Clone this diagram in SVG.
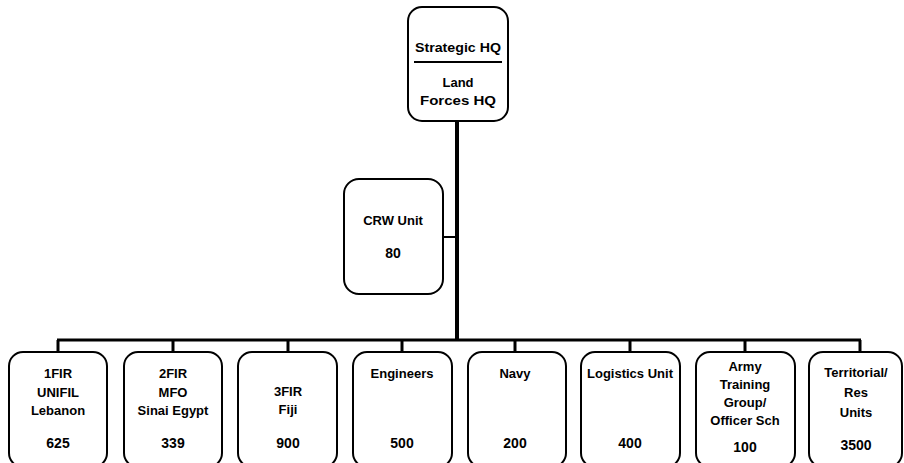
<svg xmlns="http://www.w3.org/2000/svg" width="904" height="463" viewBox="0 0 904 463">
<style>
.box{fill:#fff;stroke:#000;stroke-width:2}
.t{font-family:"Liberation Sans",Arial,sans-serif;font-size:13px;font-weight:bold;text-anchor:middle;fill:#000}
.num{font-size:14px}
.tn{font-family:"Liberation Sans",Arial,sans-serif;font-size:13px;font-weight:bold;text-anchor:middle;fill:#000}
.c{stroke:#000;fill:none}
</style>
<rect width="904" height="463" fill="#fff"/>
<g id="connectors">
<line class="c" x1="457" y1="121" x2="457" y2="341" stroke-width="4"/>
<line class="c" x1="443" y1="237" x2="457" y2="237" stroke-width="2"/>
<line class="c" x1="57" y1="340" x2="861" y2="340" stroke-width="3"/>
<line class="c" x1="58" y1="340" x2="58" y2="352" stroke-width="3"/>
<line class="c" x1="173" y1="340" x2="173" y2="352" stroke-width="3"/>
<line class="c" x1="288" y1="340" x2="288" y2="352" stroke-width="3"/>
<line class="c" x1="402" y1="340" x2="402" y2="352" stroke-width="3"/>
<line class="c" x1="515" y1="340" x2="515" y2="352" stroke-width="3"/>
<line class="c" x1="630" y1="340" x2="630" y2="352" stroke-width="3"/>
<line class="c" x1="745" y1="340" x2="745" y2="352" stroke-width="3"/>
<line class="c" x1="860" y1="340" x2="860" y2="352" stroke-width="3"/>
</g>
<g id="hq">
<rect class="box" x="408" y="7" width="100" height="114" rx="14"/>
<text class="tn" x="458" y="52" textLength="86" lengthAdjust="spacingAndGlyphs">Strategic HQ</text>
<line x1="414" y1="62" x2="502" y2="62" stroke="#000" stroke-width="2"/>
<text class="tn" x="458" y="87">Land</text>
<text class="tn" x="458" y="105" textLength="76" lengthAdjust="spacingAndGlyphs">Forces HQ</text>
</g>
<g id="crw">
<rect class="box" x="344" y="179" width="99" height="115" rx="15"/>
<text class="t" x="393" y="225">CRW Unit</text>
<text class="t num" x="393" y="258">80</text>
</g>
<g id="n1">
<rect class="box" x="9" y="352" width="98" height="115" rx="14"/>
<text class="t" x="58" y="378">1FIR</text>
<text class="t" x="58" y="397">UNIFIL</text>
<text class="t" x="58" y="415">Lebanon</text>
<text class="t num" x="58" y="448">625</text>
</g>
<g id="n2">
<rect class="box" x="124" y="352" width="98" height="115" rx="14"/>
<text class="t" x="173" y="378">2FIR</text>
<text class="t" x="173" y="397">MFO</text>
<text class="t" x="173" y="415">Sinai Egypt</text>
<text class="t num" x="173" y="448">339</text>
</g>
<g id="n3">
<rect class="box" x="238" y="352" width="99" height="115" rx="14"/>
<text class="t" x="288" y="396">3FIR</text>
<text class="t" x="288" y="414">Fiji</text>
<text class="t num" x="288" y="448">900</text>
</g>
<g id="n4">
<rect class="box" x="353" y="352" width="99" height="115" rx="14"/>
<text class="t" x="402" y="378">Engineers</text>
<text class="t num" x="402" y="448">500</text>
</g>
<g id="n5">
<rect class="box" x="468" y="352" width="98" height="115" rx="14"/>
<text class="t" x="515" y="378">Navy</text>
<text class="t num" x="515" y="448">200</text>
</g>
<g id="n6">
<rect class="box" x="581" y="352" width="99" height="115" rx="14"/>
<text class="t" x="630" y="378">Logistics Unit</text>
<text class="t num" x="630" y="448">400</text>
</g>
<g id="n7">
<rect class="box" x="696" y="352" width="99" height="115" rx="14"/>
<text class="t" x="745" y="371">Army</text>
<text class="t" x="745" y="389">Training</text>
<text class="t" x="745" y="407">Group/</text>
<text class="t" x="745" y="425">Officer Sch</text>
<text class="t num" x="745" y="452">100</text>
</g>
<g id="n8">
<rect class="box" x="809" y="352" width="93" height="115" rx="14"/>
<text class="t" x="856" y="377">Territorial/</text>
<text class="t" x="856" y="397">Res</text>
<text class="t" x="856" y="417">Units</text>
<text class="t num" x="856" y="450">3500</text>
</g>
</svg>
